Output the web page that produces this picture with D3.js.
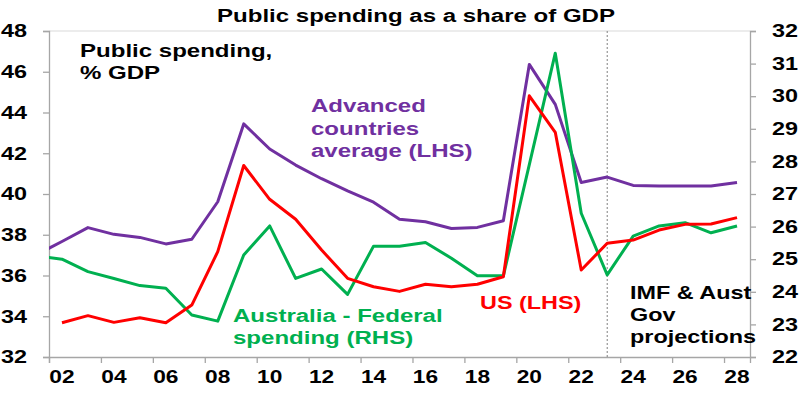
<!DOCTYPE html>
<html><head><meta charset="utf-8">
<script src="https://cdn.jsdelivr.net/npm/d3@7"></script>
<style>
html,body{margin:0;padding:0;background:#fff;}
svg{display:block;font-family:"Liberation Sans",Arial,sans-serif;font-weight:bold;}
</style></head>
<body><svg id="chart" width="800" height="394"></svg>
<script>
// ---- data ----
const years = [2001,2002,2003,2004,2005,2006,2007,2008,2009,2010,2011,2012,2013,2014,2015,2016,2017,2018,2019,2020,2021,2022,2023,2024,2025,2026,2027,2028];
const advanced = [37.0,37.67,38.35,38.02,37.87,37.55,37.78,39.62,43.44,42.21,41.42,40.75,40.15,39.6,38.76,38.64,38.31,38.36,38.69,46.36,44.4,40.56,40.83,40.42,40.39,40.39,40.39,40.56];
const us = [null,33.68,34.03,33.70,33.93,33.68,34.55,37.17,41.4,39.74,38.76,37.25,35.86,35.45,35.22,35.57,35.45,35.57,35.94,44.82,43.03,36.27,37.58,37.74,38.23,38.51,38.53,38.84];
const australia = [25.1,25.0,24.62,24.41,24.19,24.11,23.29,23.10,25.13,26.02,24.41,24.70,23.92,25.40,25.40,25.51,25.03,24.49,24.49,27.9,31.32,26.41,24.52,25.71,26.02,26.12,25.81,26.02];
const xTickLabels = ["02","04","06","08","10","12","14","16","18","20","22","24","26","28"];
const leftTicks = [32,34,36,38,40,42,44,46,48];
const rightTicks = [22,23,24,25,26,27,28,29,30,31,32];
const projectionStart = 2023;

// ---- layout ----
const svg = d3.select("#chart");
const L = 49, R = 750, T = 31, B = 357;
const SX = 1.3; // horizontal text stretch seen in the reference
const x = d3.scaleLinear().domain([2001.5, 2028.5]).range([L, R]);
const yL = d3.scaleLinear().domain([32, 48]).range([B, T]);
const yR = d3.scaleLinear().domain([22, 32]).range([B, T]);
const axisCol = "#A6A6A6";

svg.append("defs").append("clipPath").attr("id","clip")
  .append("rect").attr("x",L).attr("y",T-2).attr("width",R-L).attr("height",B-T+4);

// plot border top
svg.append("line").attr("x1",L).attr("x2",R).attr("y1",T).attr("y2",T)
  .attr("stroke","#D9D9D9").attr("stroke-width",1);

// left axis
const gl = svg.append("g").attr("transform",`translate(${L},0)`)
  .call(d3.axisLeft(yL).tickValues(leftTicks).tickSize(6).tickFormat(d=>d));
gl.selectAll("path,line").attr("stroke",axisCol).attr("stroke-width",1.3);
gl.selectAll("text").attr("font-size",18).attr("fill","#000")
  .attr("font-family","Liberation Sans, Arial, sans-serif").attr("font-weight","bold")
  .attr("x",-22/SX).attr("transform",`scale(${SX},1)`);

// right axis
const gr = svg.append("g").attr("transform",`translate(${R},0)`)
  .call(d3.axisRight(yR).tickValues(rightTicks).tickSize(6).tickFormat(d=>d));
gr.selectAll("path,line").attr("stroke",axisCol).attr("stroke-width",1.3);
gr.selectAll("text").attr("font-size",18).attr("fill","#000")
  .attr("font-family","Liberation Sans, Arial, sans-serif").attr("font-weight","bold")
  .attr("x",22/SX).attr("transform",`scale(${SX},1)`);

// bottom axis: ticks at category boundaries
const boundaries = d3.range(2001.5, 2028.5, 2);
const gb = svg.append("g").attr("transform",`translate(0,${B})`)
  .call(d3.axisBottom(x).tickValues(boundaries).tickSize(6).tickFormat(""));
gb.selectAll("path,line").attr("stroke",axisCol).attr("stroke-width",1.3);
// labels centered on even years
const labelYears = xTickLabels.map(s=>2000+(+s));
const gb2 = svg.append("g").attr("transform",`translate(0,${B})`)
  .call(d3.axisBottom(x).tickValues(labelYears).tickSize(0).tickPadding(13.5)
  .tickFormat((d,i)=>xTickLabels[i]));
gb2.select(".domain").remove();
gb2.selectAll("text").attr("font-size",17.5).attr("fill","#000")
  .attr("font-family","Liberation Sans, Arial, sans-serif").attr("font-weight","bold")
  .attr("transform",`scale(${SX},1)`);
gb2.selectAll(".tick").attr("transform",d=>`translate(${x(d)},0)`);

// projection divider
svg.append("line").attr("x1",x(projectionStart)).attr("x2",x(projectionStart))
  .attr("y1",T).attr("y2",B).attr("stroke","#808080").attr("stroke-width",1)
  .attr("stroke-dasharray","2,2");

// series
const plot = svg.append("g").attr("clip-path","url(#clip)");
function drawLine(vals, y, color){
  const line = d3.line().defined(d=>d[1]!=null).x(d=>x(d[0])).y(d=>y(d[1]));
  plot.append("path").datum(years.map((yr,i)=>[yr,vals[i]]))
    .attr("d",line).attr("fill","none").attr("stroke",color)
    .attr("stroke-width",3).attr("stroke-linejoin","round");
}
drawLine(advanced, yL, "#7030A0");
drawLine(australia, yR, "#00B050");
drawLine(us, yL, "#FF0000");

// text helper
function label(lines, x0, y0, lh, size, color, anchor){
  lines.forEach((s,i)=>{
    svg.append("text").attr("transform",`translate(${x0},${y0+i*lh}) scale(${SX},1)`)
      .attr("text-anchor",anchor||"start").attr("font-size",size).attr("fill",color).text(s);
  });
}
label(["Public spending as a share of GDP"], 416, 22, 0, 18.5, "#000", "middle");
label(["Public spending,","% GDP"], 80, 57, 21.5, 18.5, "#000");
label(["Advanced","countries","average (LHS)"], 311, 112, 22.5, 18.5, "#7030A0");
label(["Australia - Federal","spending (RHS)"], 233, 322, 22, 18.5, "#00B050");
label(["US (LHS)"], 480, 309, 0, 18, "#FF0000");
label(["IMF & Aust","Gov","projections"], 630, 299, 22, 18, "#000");
</script></body></html>
